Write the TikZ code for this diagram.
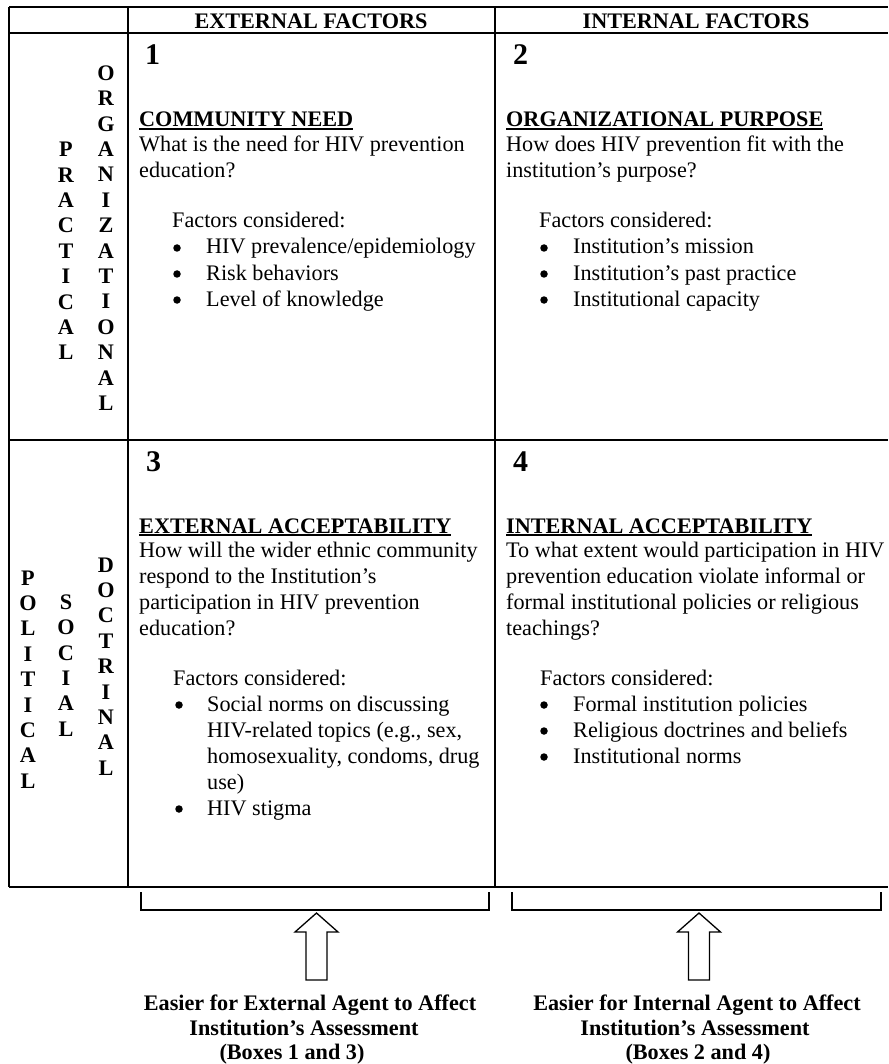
\documentclass[tikz,border=0pt]{standalone}
\usepackage{fontspec}
\setmainfont{Liberation Serif}
\usepackage{tikz}
\usetikzlibrary{positioning}

\newsavebox\titlebox
\newcommand\undertitle[1]{\sbox\titlebox{#1}\rlap{\rule[-3pt]{\wd\titlebox}{1.6pt}}\usebox\titlebox}

\begin{document}
\begin{tikzpicture}[
    x=1pt, y=-1pt,
    body/.style={anchor=base west, inner sep=0pt, font=\fontsize{22.2}{25.6}\selectfont},
    title/.style={body, font=\fontsize{22.2}{25.6}\selectfont\bfseries},
    num/.style={anchor=base west, inner sep=0pt, font=\fontsize{30}{34}\selectfont\bfseries},
    head/.style={anchor=base, inner sep=0pt, font=\fontsize{22.2}{25.6}\selectfont\bfseries},
    dot/.style={circle, fill=black, inner sep=0pt, minimum size=7.5pt},
    vert/.style={inner sep=0pt, align=center, font=\fontsize{22.2}{25.4}\selectfont\bfseries},
    foot/.style={anchor=base, inner sep=0pt, font=\fontsize{22.2}{25}\selectfont\bfseries},
    rule/.style={line width=1.4pt},
    brace/.style={line width=1.2pt},
    hollow/.style={line width=1.3pt, line join=miter}
]
    \useasboundingbox (0,0) rectangle (888,1064);

    % table
    \draw[rule] (9,7) -- (888,7);
    \draw[rule] (9,33) -- (888,33);
    \draw[rule] (9,440) -- (888,440);
    \draw[rule] (9,887) -- (888,887);
    \draw[rule] (9,7) -- (9,887);
    \draw[rule] (128,7) -- (128,887);
    \draw[rule] (495,7) -- (495,887);

    \node[head] (ext) at (311,29) {EXTERNAL FACTORS};
    \node[head] (int) at (696,29) {INTERNAL FACTORS};

    % row labels
    \node[vert] (prac) at (66,251) {P\\R\\A\\C\\T\\I\\C\\A\\L};
    \node[vert] (org) at (106,238) {O\\R\\G\\A\\N\\I\\Z\\A\\T\\I\\O\\N\\A\\L};
    \node[vert] (pol) at (28,679.5) {P\\O\\L\\I\\T\\I\\C\\A\\L};
    \node[vert] (soc) at (66,665.5) {S\\O\\C\\I\\A\\L};
    \node[vert] (doc) at (106,666.5) {D\\O\\C\\T\\R\\I\\N\\A\\L};

    % box 1
    \node[num] (n1) at (145,65) {1};
    \node[title] (t1) at (139,127) {\undertitle{COMMUNITY NEED}};
    \node[body] (q1a) at (139,152) {What is the need for HIV prevention};
    \node[body] (q1b) at (139,178) {education?};
    \node[body] (f1) at (172,228) {Factors considered:};
    \node[dot] (d1a) at (177,248) {};
    \node[dot] (d1b) at (177,274) {};
    \node[dot] (d1c) at (177,300) {};
    \node[body] (i1a) at (206,254) {HIV prevalence/epidemiology};
    \node[body] (i1b) at (206,280) {Risk behaviors};
    \node[body] (i1c) at (206,306) {Level of knowledge};

    % box 2
    \node[num] (n2) at (513,65) {2};
    \node[title] (t2) at (506,127) {\undertitle{ORGANIZATIONAL PURPOSE}};
    \node[body] (q2a) at (506,152) {How does HIV prevention fit with the};
    \node[body] (q2b) at (506,178) {institution's purpose?};
    \node[body] (f2) at (539,228) {Factors considered:};
    \node[dot] (d2a) at (544,248) {};
    \node[dot] (d2b) at (544,274) {};
    \node[dot] (d2c) at (544,300) {};
    \node[body] (i2a) at (573,254) {Institution's mission};
    \node[body] (i2b) at (573,280) {Institution's past practice};
    \node[body] (i2c) at (573,306) {Institutional capacity};

    % box 3
    \node[num] (n3) at (146,471) {3};
    \node[title] (t3) at (139,533) {\undertitle{EXTERNAL ACCEPTABILITY}};
    \node[body] (q3a) at (139,557) {How will the wider ethnic community};
    \node[body] (q3b) at (139,583) {respond to the Institution's};
    \node[body] (q3c) at (139,609) {participation in HIV prevention};
    \node[body] (q3d) at (139,635) {education?};
    \node[body] (f3) at (173,685) {Factors considered:};
    \node[dot] (d3a) at (179,705) {};
    \node[dot] (d3b) at (179,809) {};
    \node[body] (i3a) at (207,711) {Social norms on discussing};
    \node[body] (i3b) at (207,737) {HIV-related topics (e.g., sex,};
    \node[body] (i3c) at (207,763) {homosexuality, condoms, drug};
    \node[body] (i3d) at (207,789) {use)};
    \node[body] (i3e) at (207,815) {HIV stigma};

    % box 4
    \node[num] (n4) at (513,471) {4};
    \node[title] (t4) at (506,533) {\undertitle{INTERNAL ACCEPTABILITY}};
    \node[body] (q4a) at (506,557) {To what extent would participation in HIV};
    \node[body] (q4b) at (506,583) {prevention education violate informal or};
    \node[body] (q4c) at (506,609) {formal institutional policies or religious};
    \node[body] (q4d) at (506,635) {teachings?};
    \node[body] (f4) at (540,685) {Factors considered:};
    \node[dot] (d4a) at (544,705) {};
    \node[dot] (d4b) at (544,731) {};
    \node[dot] (d4c) at (544,757) {};
    \node[body] (i4a) at (573,711) {Formal institution policies};
    \node[body] (i4b) at (573,737) {Religious doctrines and beliefs};
    \node[body] (i4c) at (573,763) {Institutional norms};

    % brackets and arrows
    \draw[brace] (141,892) -- (141,910) -- (489,910) -- (489,892);
    \draw[brace] (512,892) -- (512,910) -- (881,910) -- (881,892);
    \foreach \ax in {316.5,699}
        \draw[hollow] (\ax-10.5,980) -- (\ax-10.5,932) -- (\ax-21.5,932) -- (\ax,913)
            -- (\ax+21.5,932) -- (\ax+10.5,932) -- (\ax+10.5,980) -- cycle;

    \node[foot] (ea) at (310,1010) {Easier for External Agent to Affect};
    \node[foot] (eb) at (304,1035) {Institution's Assessment};
    \node[foot] (ec) at (292,1059) {(Boxes 1 and 3)};
    \node[foot] (ia) at (697,1010) {Easier for Internal Agent to Affect};
    \node[foot] (ib) at (695,1035) {Institution's Assessment};
    \node[foot] (ic) at (698,1059) {(Boxes 2 and 4)};
\end{tikzpicture}
\end{document}
